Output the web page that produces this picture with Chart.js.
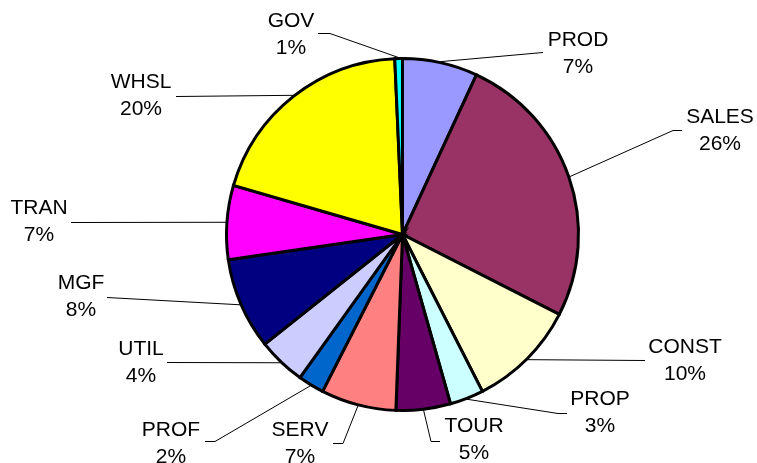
<!DOCTYPE html>
<html>
<head>
<meta charset="utf-8">
<style>
html,body{margin:0;padding:0;background:#fff;}
#wrap{width:757px;height:463px;}
</style>
<script src="https://cdn.jsdelivr.net/npm/chart.js@4.4.1/dist/chart.umd.min.js"></script>
</head>
<body>
<div id="wrap"><canvas id="c" width="757" height="463"></canvas></div>
<script>
// ---- data ----
const categories = ["PROD","SALES","CONST","PROP","TOUR","SERV","PROF","UTIL","MGF","TRAN","WHSL","GOV"];
const shares = [6.9, 25.6, 10.0, 3.1, 5.0, 6.9, 2.4, 4.4, 8.4, 6.8, 19.8, 0.7];
const sliceColors = ["#9999FF","#993366","#FFFFCC","#CCFFFF","#660066","#FF8080","#0066CC","#CCCCFF","#000080","#FF00FF","#FFFF00","#00FFFF"];

// ---- label layout (text centre x, first-line baseline, leader elbow x/y, leader end x) ----
const labelLayout = [
  {tx:578, ty:46,  ex:543, ey:52,  hx:543},
  {tx:720, ty:123, ex:673, ey:130, hx:682},
  {tx:685, ty:353, ex:645, ey:360, hx:645},
  {tx:600, ty:405, ex:558, ey:413, hx:567},
  {tx:474, ty:432, ex:431, ey:441, hx:440},
  {tx:300, ty:436, ex:343, ey:443, hx:333},
  {tx:171, ty:436, ex:215, ey:441, hx:205},
  {tx:141, ty:355, ex:167, ey:362, hx:167},
  {tx:81,  ty:289, ex:107, ey:297, hx:107},
  {tx:39,  ty:214, ex:71,  ey:222, hx:71},
  {tx:141, ty:88,  ex:176, ey:96,  hx:176},
  {tx:291, ty:27,  ex:330, ey:33,  hx:318}
];

const labelPlugin = {
  id: 'excelLabels',
  afterDatasetsDraw(chart) {
    const ctx = chart.ctx;
    const meta = chart.getDatasetMeta(0);
    const data = chart.data.datasets[0].data;
    const total = data.reduce((a, b) => a + b, 0);
    ctx.save();
    meta.data.forEach((arc, i) => {
      const p = arc.getProps(['x','y','startAngle','endAngle','outerRadius'], true);
      const mid = (p.startAngle + p.endAngle) / 2;
      const r = p.outerRadius + 1;
      const sx = p.x + Math.cos(mid) * r;
      const sy = p.y + Math.sin(mid) * r;
      const L = labelLayout[i];
      ctx.strokeStyle = '#000';
      ctx.lineWidth = 1;
      ctx.beginPath();
      ctx.moveTo(sx, sy);
      ctx.lineTo(L.ex, L.ey + 0.5);
      ctx.lineTo(L.hx, L.ey + 0.5);
      ctx.stroke();
      ctx.fillStyle = '#000';
      ctx.font = '21px "Liberation Sans", Arial, sans-serif';
      ctx.textAlign = 'center';
      ctx.textBaseline = 'alphabetic';
      ctx.fillText(chart.data.labels[i], L.tx, L.ty);
      ctx.fillText(Math.round(data[i] / total * 100) + '%', L.tx, L.ty + 27);
    });
    ctx.restore();
  }
};

new Chart(document.getElementById('c'), {
  type: 'pie',
  data: {
    labels: categories,
    datasets: [{
      data: shares,
      backgroundColor: sliceColors,
      borderColor: '#000',
      borderWidth: 3,
      borderJoinStyle: 'miter'
    }]
  },
  options: {
    responsive: false,
    devicePixelRatio: 1,
    animation: false,
    rotation: 0,
    layout: { padding: { left: 225, right: 177, top: 57, bottom: 51 } },
    plugins: { legend: { display: false }, tooltip: { enabled: false } }
  },
  plugins: [labelPlugin]
});
</script>
</body>
</html>
